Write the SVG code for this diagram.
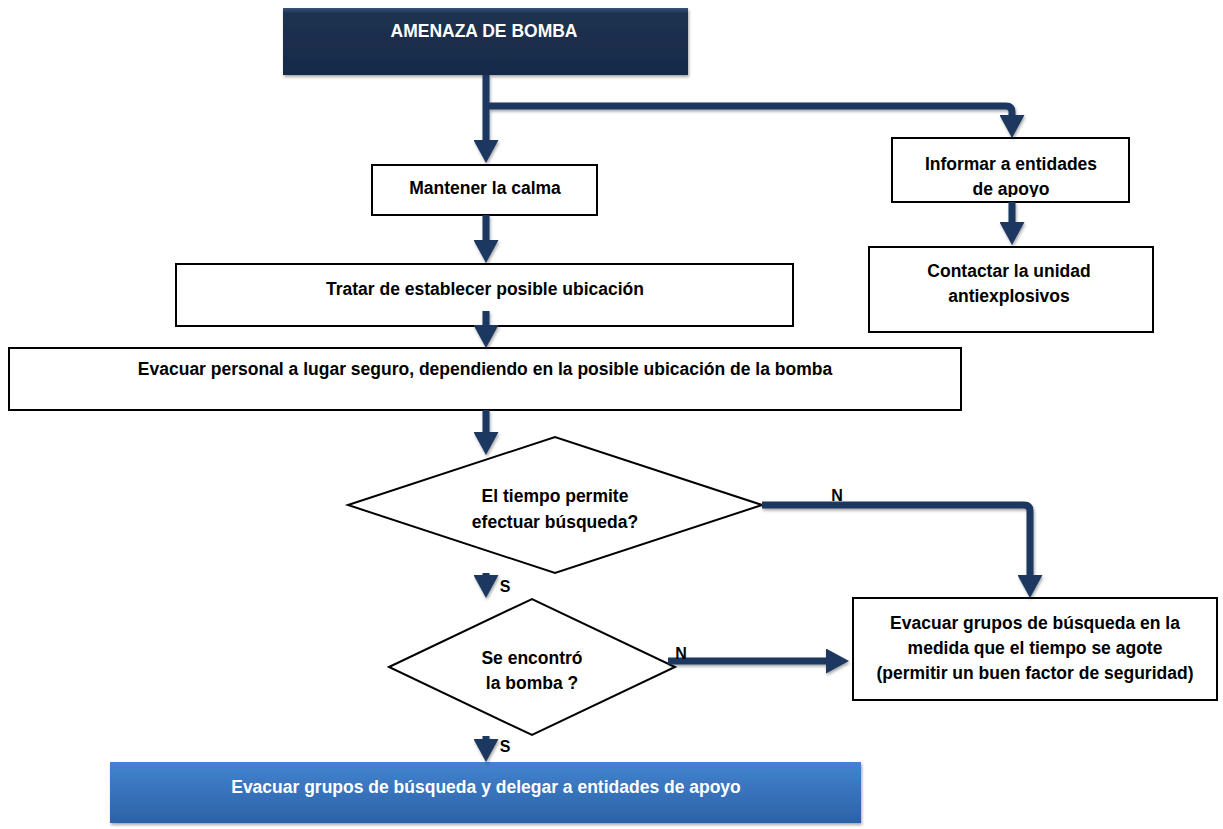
<svg xmlns="http://www.w3.org/2000/svg" width="1223" height="829" viewBox="0 0 1223 829">
<defs>
<style>
.box{fill:#fff;stroke:#000;stroke-width:2}
.t{font-family:"Liberation Sans",Arial,sans-serif;font-weight:bold;font-size:17.5px;fill:#000;text-anchor:middle}
.w{fill:#fff}
.lbl{font-family:"Liberation Sans",Arial,sans-serif;font-weight:bold;font-size:16px;fill:#000;text-anchor:middle}
.con{fill:none;stroke:#1d3961;stroke-width:7;marker-end:url(#ah)}
</style>
<marker id="ah" markerUnits="userSpaceOnUse" markerWidth="24" markerHeight="25" viewBox="0 0 24 25" refX="0" refY="12.5" orient="auto">
<path d="M0,0 L23,12.5 L0,25 Z" fill="#1d3961"/>
</marker>
<linearGradient id="gTop" x1="0" y1="0" x2="0" y2="1">
<stop offset="0" stop-color="#3a5478"/>
<stop offset="0.08" stop-color="#1c3150"/>
<stop offset="1" stop-color="#182b47"/>
</linearGradient>
<linearGradient id="gBot" x1="0" y1="0" x2="0" y2="1">
<stop offset="0" stop-color="#4383d0"/>
<stop offset="1" stop-color="#2c62a6"/>
</linearGradient>
<filter id="sh" filterUnits="userSpaceOnUse" x="0" y="0" width="1223" height="829">
<feDropShadow dx="1" dy="2" stdDeviation="1.5" flood-color="#000" flood-opacity="0.35"/>
</filter>
<clipPath id="clipInf"><rect x="892" y="138" width="237" height="59"/></clipPath>
</defs>

<g id="n-amenaza">
<rect x="283" y="8" width="405" height="67" fill="url(#gTop)" filter="url(#sh)"/>
<text class="t w" x="484" y="37">AMENAZA DE BOMBA</text>
</g>

<g id="n-mantener">
<rect class="box" x="372" y="165" width="225" height="50"/>
<text class="t" x="485" y="194">Mantener la calma</text>
</g>

<g id="n-informar">
<rect class="box" x="892" y="138" width="237" height="64"/>
<g clip-path="url(#clipInf)">
<text class="t" x="1011" y="170">Informar a entidades</text>
<text class="t" x="1011" y="195">de apoyo</text>
</g>
</g>

<g id="n-contactar">
<rect class="box" x="869" y="247" width="284" height="85"/>
<text class="t" x="1009" y="277">Contactar la unidad</text>
<text class="t" x="1009" y="302">antiexplosivos</text>
</g>

<g id="n-tratar">
<rect class="box" x="176" y="264" width="617" height="62"/>
<text class="t" x="485" y="295">Tratar de establecer posible ubicación</text>
</g>

<g id="n-evacuar">
<rect class="box" x="9" y="348" width="952" height="62"/>
<text class="t" x="485" y="375">Evacuar personal a lugar seguro, dependiendo en la posible ubicación de la bomba</text>
</g>

<g id="n-tiempo">
<polygon class="box" points="348,505 555,437 762,505 555,573"/>
<text class="t" x="555" y="502">El tiempo permite</text>
<text class="t" x="555" y="528">efectuar búsqueda?</text>
</g>

<g id="n-encontro">
<polygon class="box" points="389,667 532,599 675,667 532,735"/>
<text class="t" x="532" y="664">Se encontró</text>
<text class="t" x="532" y="689">la bomba ?</text>
</g>

<g id="n-evacuar-grupos">
<rect class="box" x="853" y="598" width="364" height="102"/>
<text class="t" x="1035" y="629">Evacuar grupos de búsqueda en la</text>
<text class="t" x="1035" y="654">medida que el tiempo se agote</text>
<text class="t" x="1035" y="679">(permitir un buen factor de seguridad)</text>
</g>

<g id="n-delegar">
<rect x="110" y="762" width="751" height="61" fill="url(#gBot)" filter="url(#sh)"/>
<text class="t w" x="486" y="793">Evacuar grupos de búsqueda y delegar a entidades de apoyo</text>
</g>

<g id="connectors" filter="url(#sh)">
<path class="con" d="M486,75 V140"/>
<path class="con" d="M486,106 H1006 Q1012,106 1012,112 V115"/>
<path class="con" d="M1012,202 V222"/>
<path class="con" d="M486,215 V240"/>
<path class="con" d="M486,311 V325"/>
<path class="con" d="M486,410 V432"/>
<path class="con" d="M486,573 V575"/>
<path class="con" d="M762,505 H1024 Q1030,505 1030,511 V575"/>
<path class="con" d="M668,661 H826"/>
<path class="con" d="M486,736 V739"/>
</g>

<g id="labels">
<text class="lbl" x="837" y="501">N</text>
<text class="lbl" x="681" y="659">N</text>
<text class="lbl" x="505" y="592">S</text>
<text class="lbl" x="505" y="752">S</text>
</g>
</svg>
